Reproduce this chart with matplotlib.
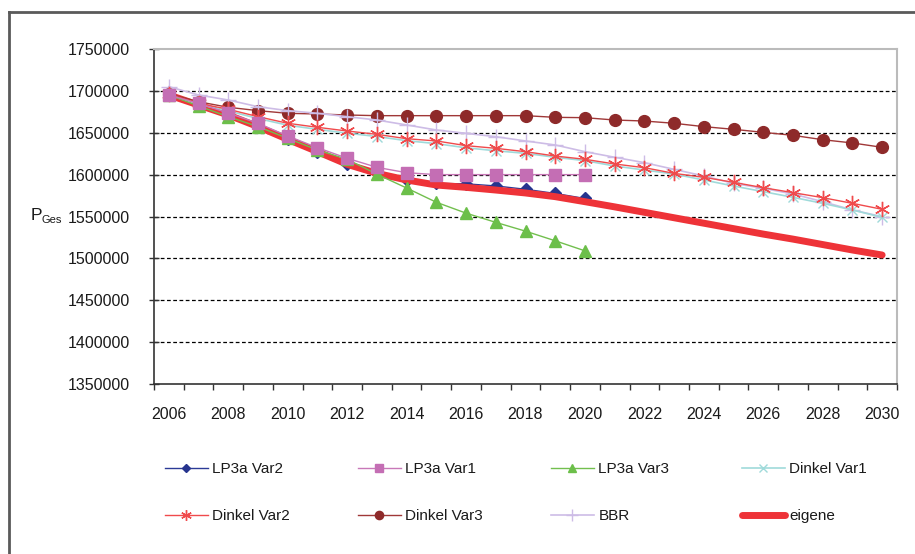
import matplotlib
matplotlib.use("Agg")
import matplotlib.pyplot as plt
from matplotlib.lines import Line2D

plt.rcParams['font.family'] = ['Liberation Sans', 'DejaVu Sans']

years = list(range(2006, 2031))
years_short = list(range(2006, 2021))

lp3a_var2 = [1695000, 1683000, 1671000, 1657000, 1642000, 1627500, 1612500, 1601500,
             1594000, 1589500, 1589000, 1586500, 1582500, 1577500, 1571500]
lp3a_var1 = [1695000, 1685000, 1673500, 1661300, 1646100, 1632200, 1619500, 1608700,
             1602300, 1600000, 1600000, 1600000, 1600000, 1600000, 1600000]
lp3a_var3 = [1695100, 1681900, 1669200, 1657300, 1643300, 1629400, 1618300, 1600500,
             1584000, 1567000, 1554000, 1543000, 1532500, 1521000, 1509000]
dinkel_var1 = [1695000, 1684000, 1676000, 1667000, 1659000, 1654000, 1649500, 1645500,
               1640500, 1637000, 1632000, 1628500, 1625400, 1620700, 1616700, 1610300,
               1605500, 1600700, 1593600, 1586400, 1579700, 1572900, 1565700, 1557800,
               1549000]
dinkel_var2 = [1696000, 1685100, 1678000, 1669200, 1661300, 1656500, 1652100, 1648100,
               1642900, 1640200, 1634600, 1631400, 1627400, 1622200, 1618300, 1612700,
               1608300, 1601500, 1596800, 1590800, 1584400, 1578500, 1572500, 1565700,
               1558600]
dinkel_var3 = [1696500, 1687000, 1680400, 1676400, 1673200, 1672400, 1671200, 1670400,
               1670400, 1670400, 1670400, 1670400, 1670400, 1668400, 1668000, 1665200,
               1664000, 1661300, 1657300, 1654100, 1650500, 1646900, 1641700, 1637800,
               1632600]
bbr = [1705000, 1695100, 1689100, 1681100, 1676400, 1673200, 1669200, 1665200,
       1659300, 1653300, 1649300, 1645300, 1640200, 1635400, 1627400, 1620700,
       1614300, 1606300, 1598400, 1589600, 1583600, 1576900, 1567700, 1557800,
       1549800]
eigene = [1695100, 1683100, 1671200, 1657300, 1642100, 1627400, 1612300, 1601500,
          1593600, 1587600, 1584800, 1581600, 1578100, 1573700, 1567700, 1561500,
          1555000, 1548500, 1542000, 1535500, 1529000, 1523000, 1516500, 1510000,
          1504000]

y_ticks = [1350000, 1400000, 1450000, 1500000, 1550000, 1600000, 1650000, 1700000, 1750000]
x_labels = list(range(2006, 2031, 2))

fig = plt.figure(figsize=(9.15, 5.54), dpi=100)
ax = fig.add_axes([154/915, 1-384/554, (897-154)/915, (384-49)/554])

# outer frame (top and left visible)
fig.add_artist(Line2D([9/915, 1.0], [1-12/554, 1-12/554], color='#5a5a5a', lw=2.0))
fig.add_artist(Line2D([9/915, 9/915], [0.0, 1-12/554], color='#5a5a5a', lw=2.0))

for yv in y_ticks[1:-1]:
    ax.axhline(yv, color='black', lw=0.9, ls=(0, (3, 2)), zorder=1)

l_v2, = ax.plot(years_short, lp3a_var2, color='#2B3A96', lw=1.0, marker='D', ms=6,
                mfc='#26348E', mec='#26348E', zorder=2)
l_eig, = ax.plot(years, eigene, color='#EE3338', lw=5.0, solid_capstyle='round', zorder=2.5)
l_d3, = ax.plot(years, dinkel_var3, color='#A03838', lw=1.0, marker='o', ms=8.5,
                mfc='#8E2A2A', mec='#8E2A2A', zorder=3)
l_bbr, = ax.plot(years, bbr, color='#CDBCE6', lw=1.2, marker='+', ms=12, mew=1.0, zorder=3)
l_d1, = ax.plot(years, dinkel_var1, color='#9FDADA', lw=1.2, marker='x', ms=7.5, mew=1.0, zorder=3)
l_d2, = ax.plot(years, dinkel_var2, color='#F04A4C', lw=1.0, marker=(6, 2, 0), ms=11, mew=1.0, zorder=3)
l_v3, = ax.plot(years_short, lp3a_var3, color='#72BF4E', lw=1.0, marker='^', ms=9,
                mfc='#6CBF4A', mec='#6CBF4A', zorder=4)
l_v1, = ax.plot(years_short, lp3a_var1, color='#C878B8', lw=1.0, marker='s', ms=8,
                mfc='#C46EB4', mec='#C46EB4', zorder=4)

ax.set_xlim(2005.5, 2030.5)
ax.set_ylim(1350000, 1750000)
ax.set_yticks(y_ticks)
ax.set_yticklabels([str(v) for v in y_ticks])
ax.set_xticks([y - 0.5 for y in range(2006, 2032)])
ax.set_xticklabels([])
ax.set_xticks(x_labels, minor=True)
ax.set_xticklabels([str(v) for v in x_labels], minor=True)
ax.tick_params(axis='x', which='major', direction='out', length=4, width=1, color='#333333')
ax.tick_params(axis='x', which='minor', length=0, pad=16.5, labelsize=11.5, labelcolor='#1a1a1a')
ax.tick_params(axis='y', direction='inout', length=6.5, width=1, color='#333333',
               pad=14, labelsize=11.5, labelcolor='#1a1a1a')

for side in ['left', 'bottom']:
    ax.spines[side].set_color('#333333')
    ax.spines[side].set_linewidth(1.2)
for side in ['top', 'right']:
    ax.spines[side].set_color('#BBBBBB')
    ax.spines[side].set_linewidth(1.5)

fig.text(31/915, 1-216/554, 'P', fontsize=12.5, color='#1a1a1a', va='center', ha='left')
fig.text(41/915, 1-220/554, 'Ges', fontsize=8, color='#1a1a1a', va='center', ha='left')

entries = [
    (l_v2, 'LP3a Var2', 165, 469), (l_v1, 'LP3a Var1', 358, 469),
    (l_v3, 'LP3a Var3', 551, 469), (l_d1, 'Dinkel Var1', 742, 469),
    (l_d2, 'Dinkel Var2', 165, 516), (l_d3, 'Dinkel Var3', 358, 516),
    (l_bbr, 'BBR', 551, 516), (l_eig, 'eigene', 742, 516),
]
for h, lab, px, py in entries:
    fig.legend([h], [lab], loc='center left', bbox_to_anchor=(px/915, 1-py/554),
               frameon=False, borderpad=0, borderaxespad=0, handlelength=2.8,
               handletextpad=0.3, numpoints=1, markerscale=0.7, fontsize=11,
               labelcolor='#1a1a1a')

fig.savefig('out.png', dpi=100)
